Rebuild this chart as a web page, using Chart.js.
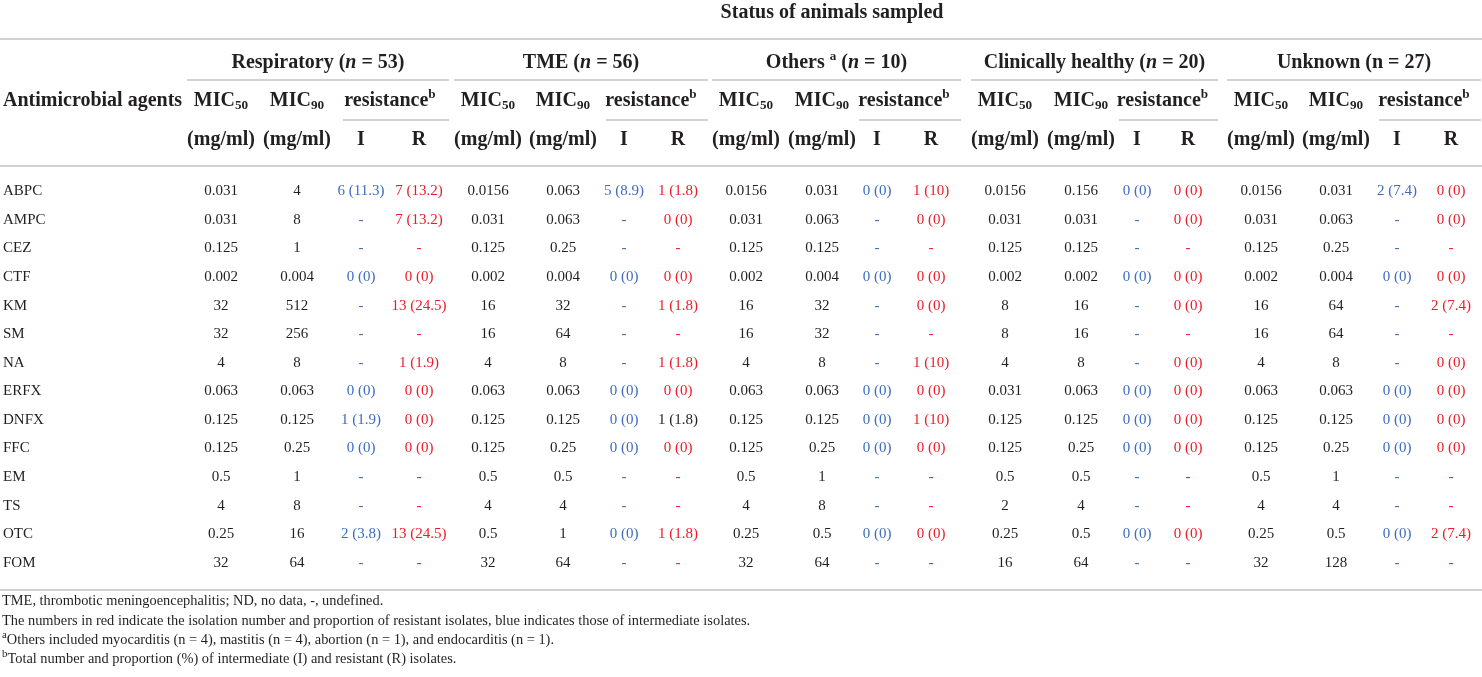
<!DOCTYPE html>
<html>
<head>
<meta charset="utf-8">
<title>MIC and resistance by animal status</title>
<script src="https://cdn.jsdelivr.net/npm/chart.js@4.4.1/dist/chart.umd.min.js"></script>
<style>
    html, body { margin: 0; padding: 0; background: #fff; }
    #wrap { position: relative; width: 1482px; height: 677px; }
</style>
</head>
<body>
<div id="wrap"><canvas id="micTable"></canvas></div>
<script>
const agents = ['ABPC', 'AMPC', 'CEZ', 'CTF', 'KM', 'SM', 'NA', 'ERFX', 'DNFX', 'FFC', 'EM', 'TS', 'OTC', 'FOM'];
const groupNames = ['Respiratory', 'TME', 'Others', 'Clinically healthy', 'Unknown'];
const groupSizes = [53, 56, 10, 20, 27];

const respMic50 = [0.031, 0.031, 0.125, 0.002, 32, 32, 4, 0.063, 0.125, 0.125, 0.5, 4, 0.25, 32];
const respMic90 = [4, 8, 1, 0.004, 512, 256, 8, 0.063, 0.125, 0.25, 1, 8, 16, 64];
const respI = ['6 (11.3)', '-', '-', '0 (0)', '-', '-', '-', '0 (0)', '1 (1.9)', '0 (0)', '-', '-', '2 (3.8)', '-'];
const respR = ['7 (13.2)', '7 (13.2)', '-', '0 (0)', '13 (24.5)', '-', '1 (1.9)', '0 (0)', '0 (0)', '0 (0)', '-', '-', '13 (24.5)', '-'];

const tmeMic50 = [0.0156, 0.031, 0.125, 0.002, 16, 16, 4, 0.063, 0.125, 0.125, 0.5, 4, 0.5, 32];
const tmeMic90 = [0.063, 0.063, 0.25, 0.004, 32, 64, 8, 0.063, 0.125, 0.25, 0.5, 4, 1, 64];
const tmeI = ['5 (8.9)', '-', '-', '0 (0)', '-', '-', '-', '0 (0)', '0 (0)', '0 (0)', '-', '-', '0 (0)', '-'];
const tmeR = ['1 (1.8)', '0 (0)', '-', '0 (0)', '1 (1.8)', '-', '1 (1.8)', '0 (0)', '1 (1.8)', '0 (0)', '-', '-', '1 (1.8)', '-'];

const othMic50 = [0.0156, 0.031, 0.125, 0.002, 16, 16, 4, 0.063, 0.125, 0.125, 0.5, 4, 0.25, 32];
const othMic90 = [0.031, 0.063, 0.125, 0.004, 32, 32, 8, 0.063, 0.125, 0.25, 1, 8, 0.5, 64];
const othI = ['0 (0)', '-', '-', '0 (0)', '-', '-', '-', '0 (0)', '0 (0)', '0 (0)', '-', '-', '0 (0)', '-'];
const othR = ['1 (10)', '0 (0)', '-', '0 (0)', '0 (0)', '-', '1 (10)', '0 (0)', '1 (10)', '0 (0)', '-', '-', '0 (0)', '-'];

const healthyMic50 = [0.0156, 0.031, 0.125, 0.002, 8, 8, 4, 0.031, 0.125, 0.125, 0.5, 2, 0.25, 16];
const healthyMic90 = [0.156, 0.031, 0.125, 0.002, 16, 16, 8, 0.063, 0.125, 0.25, 0.5, 4, 0.5, 64];
const healthyI = ['0 (0)', '-', '-', '0 (0)', '-', '-', '-', '0 (0)', '0 (0)', '0 (0)', '-', '-', '0 (0)', '-'];
const healthyR = ['0 (0)', '0 (0)', '-', '0 (0)', '0 (0)', '-', '0 (0)', '0 (0)', '0 (0)', '0 (0)', '-', '-', '0 (0)', '-'];

const unkMic50 = [0.0156, 0.031, 0.125, 0.002, 16, 16, 4, 0.063, 0.125, 0.125, 0.5, 4, 0.25, 32];
const unkMic90 = [0.031, 0.063, 0.25, 0.004, 64, 64, 8, 0.063, 0.125, 0.25, 1, 4, 0.5, 128];
const unkI = ['2 (7.4)', '-', '-', '0 (0)', '-', '-', '-', '0 (0)', '0 (0)', '0 (0)', '-', '-', '0 (0)', '-'];
const unkR = ['0 (0)', '0 (0)', '-', '0 (0)', '2 (7.4)', '-', '0 (0)', '0 (0)', '0 (0)', '0 (0)', '-', '-', '2 (7.4)', '-'];

// the one resistance count printed in black in the source (TME, DNFX, R)
const blackCells = ['1|R|DNFX'];

const footnotes = [
    [{ t: 'TME, thrombotic meningoencephalitis; ND, no data, -, undefined.' }],
    [{ t: 'The numbers in red indicate the isolation number and proportion of resistant isolates, blue indicates those of intermediate isolates.' }],
    [{ t: 'a', sup: true }, { t: 'Others included myocarditis (n = 4), mastitis (n = 4), abortion (n = 1), and endocarditis (n = 1).' }],
    [{ t: 'b', sup: true }, { t: 'Total number and proportion (%) of intermediate (I) and resistant (R) isolates.' }]
];

// ---- layout ----
const FONT = '"Liberation Serif", "Times New Roman", serif';
const INK = '#231f20';
const BLUE = '#3d6cc0';
const RED = '#ea1d27';
const RULE = '#d2d2d2';
const colX = [221, 297, 361, 419, 488, 563, 624, 678, 746, 822, 877, 931, 1005, 1081, 1137, 1188, 1261, 1336, 1397, 1451];

const groupCols = [
    [respMic50, respMic90, respI, respR],
    [tmeMic50, tmeMic90, tmeI, tmeR],
    [othMic50, othMic90, othI, othR],
    [healthyMic50, healthyMic90, healthyI, healthyR],
    [unkMic50, unkMic90, unkI, unkR]
];
const kinds = ['MIC50', 'MIC90', 'I', 'R'];

const columns = [];
groupCols.forEach((cols, g) => cols.forEach((values, k) => columns.push({ group: g, kind: kinds[k], values })));

function cellColor(col, r) {
    if (blackCells.includes(col.group + '|' + col.kind + '|' + agents[r])) return INK;
    if (col.kind === 'I') return BLUE;
    if (col.kind === 'R') return RED;
    return INK;
}

// draws a run of text pieces (italic / superscript / subscript) as one label
function drawRich(ctx, parts, x, y, align, size, weight, supScale) {
    const small = supScale || 0.66;
    const fontFor = p => {
        const s = (p.sup || p.sub) ? size * small : size;
        return (p.i ? 'italic ' : '') + weight + ' ' + s + 'px ' + FONT;
    };
    let total = 0;
    parts.forEach(p => { ctx.font = fontFor(p); p.w = ctx.measureText(p.t).width; total += p.w; });
    let cx = align === 'center' ? x - total / 2 : (align === 'right' ? x - total : x);
    ctx.textAlign = 'left';
    ctx.textBaseline = 'middle';
    parts.forEach(p => {
        ctx.font = fontFor(p);
        let dy = 0;
        if (p.sup) dy = -size * 0.34;
        if (p.sub) dy = size * 0.24;
        ctx.fillText(p.t, cx, y + dy);
        cx += p.w;
    });
}

function rule(ctx, x1, x2, y) {
    ctx.beginPath();
    ctx.moveTo(x1, y);
    ctx.lineTo(x2, y);
    ctx.stroke();
}

const tableDecor = {
    id: 'tableDecor',
    afterDatasetsDraw(chart) {
        const ctx = chart.ctx;
        ctx.save();
        ctx.font = '15px ' + FONT;
        ctx.textAlign = 'center';
        ctx.textBaseline = 'middle';
        chart.data.datasets.forEach((ds, c) => {
            const meta = chart.getDatasetMeta(c);
            meta.data.forEach((pt, r) => {
                ctx.fillStyle = cellColor(columns[c], r);
                ctx.fillText(ds.data[r].text, pt.x, pt.y);
            });
        });
        ctx.restore();
    },
    afterDraw(chart) {
        const ctx = chart.ctx;
        const xs = chart.scales.x;
        const area = chart.chartArea;
        const W = chart.width;
        const px = v => xs.getPixelForValue(v);
        ctx.save();
        ctx.fillStyle = INK;
        ctx.strokeStyle = RULE;
        ctx.lineWidth = 2;

        // spanning title over the status columns
        drawRich(ctx, [{ t: 'Status of animals sampled' }], (area.left + W) / 2, 13, 'center', 20, 'bold');
        rule(ctx, 0, W, 39);

        groupNames.forEach((name, g) => {
            const c0 = g * 4;
            const left = px(colX[c0]) - 34;
            const right = Math.min(W, px(colX[c0 + 3]) + 30);
            const nItalic = g !== 4;
            const parts = [{ t: name + ' ' }];
            if (g === 2) parts.push({ t: 'a', sup: true }, { t: ' ' });
            parts.push({ t: '(' }, { t: 'n', i: nItalic }, { t: ' = ' + groupSizes[g] + ')' });
            drawRich(ctx, parts, (left + right) / 2, 63, 'center', 20, 'bold');
            rule(ctx, left, right, 80);

            const iX = px(colX[c0 + 2]);
            const rX = px(colX[c0 + 3]);
            drawRich(ctx, [{ t: 'MIC' }, { t: '50', sub: true }], px(colX[c0]), 101, 'center', 20, 'bold');
            drawRich(ctx, [{ t: 'MIC' }, { t: '90', sub: true }], px(colX[c0 + 1]), 101, 'center', 20, 'bold');
            drawRich(ctx, [{ t: 'resistance' }, { t: 'b', sup: true }], (iX + rX) / 2, 101, 'center', 20, 'bold');
            rule(ctx, iX - 18, right, 120);
            drawRich(ctx, [{ t: '(mg/ml)' }], px(colX[c0]), 140, 'center', 20, 'bold');
            drawRich(ctx, [{ t: '(mg/ml)' }], px(colX[c0 + 1]), 140, 'center', 20, 'bold');
            drawRich(ctx, [{ t: 'I' }], iX, 140, 'center', 20, 'bold');
            drawRich(ctx, [{ t: 'R' }], rX, 140, 'center', 20, 'bold');
        });
        drawRich(ctx, [{ t: 'Antimicrobial agents' }], 3, 101, 'left', 20, 'bold');

        rule(ctx, 0, W, 166);
        rule(ctx, 0, W, 590);

        const noteY = [601, 621, 640, 659];
        footnotes.forEach((parts, i) => drawRich(ctx, parts, 2, noteY[i], 'left', 14.4, 'normal', 0.75));
        ctx.restore();
    }
};

const datasets = columns.map((col, c) => ({
    label: groupNames[col.group] + ' ' + col.kind,
    data: agents.map((a, r) => ({ x: colX[c], y: a, text: String(col.values[r]) })),
    pointRadius: 0,
    pointHoverRadius: 0,
    showLine: false
}));

new Chart(document.getElementById('micTable'), {
    type: 'scatter',
    data: { labels: agents, datasets },
    options: {
        responsive: true,
        maintainAspectRatio: false,
        animation: false,
        events: [],
        layout: { padding: { top: 177, bottom: 100, left: 3, right: 0 } },
        plugins: {
            legend: { display: false },
            tooltip: { enabled: false }
        },
        scales: {
            x: { type: 'linear', min: 182, max: 1482, display: false },
            y: {
                type: 'category',
                labels: agents,
                offset: true,
                grid: { display: false, drawTicks: false },
                border: { display: false },
                ticks: {
                    autoSkip: false,
                    crossAlign: 'far',
                    padding: 0,
                    color: INK,
                    font: { family: FONT, size: 15 }
                },
                afterFit(scale) { scale.width = 179; }
            }
        }
    },
    plugins: [tableDecor]
});
</script>
</body>
</html>
